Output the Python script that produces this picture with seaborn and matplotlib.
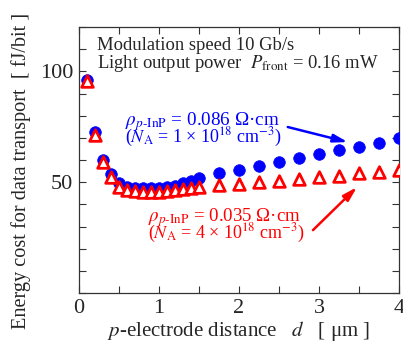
import matplotlib
import matplotlib.pyplot as plt
import numpy as np
import pandas as pd
import seaborn as sns
from matplotlib.ticker import MultipleLocator

matplotlib.use("Agg")

# p-electrode distance d [um]
d_um = [0.1, 0.2, 0.3, 0.4, 0.5, 0.6, 0.7, 0.8, 0.9, 1.0, 1.1, 1.2, 1.3, 1.4, 1.5,
        1.75, 2.0, 2.25, 2.5, 2.75, 3.0, 3.25, 3.5, 3.75, 4.0]
# energy cost [fJ/bit], rho = 0.086 Ohm cm (N_A = 1e18)
energy_086 = [96.0, 72.5, 60.0, 53.5, 49.5, 48.0, 47.5, 47.3, 47.3, 47.5, 48.0, 48.5,
              49.5, 50.5, 52.0, 54.0, 55.4, 57.3, 59.0, 60.8, 62.8, 64.4, 66.0, 67.6, 69.8]
# energy cost [fJ/bit], rho = 0.035 Ohm cm (N_A = 4e18)
energy_035 = [95.5, 71.5, 59.0, 52.5, 48.0, 46.5, 46.0, 45.8, 45.8, 45.8, 46.0, 46.3,
              46.8, 47.2, 47.7, 48.8, 49.4, 50.0, 50.6, 51.5, 52.2, 53.0, 54.0, 54.8, 55.6]

df = pd.DataFrame({"d": d_um, "e086": energy_086, "e035": energy_035})

sns.set_theme(style="ticks")
plt.rcParams["font.family"] = ["Liberation Serif", "DejaVu Serif"]
plt.rcParams["mathtext.fontset"] = "stix"

blue = "#0000ff"
red = "#ff0000"

fig = plt.figure(figsize=(4.03, 3.51), dpi=100)
ax = fig.add_axes([0.196, 0.165, 0.794, 0.758])

sns.scatterplot(data=df, x="d", y="e086", ax=ax, marker="o", s=70,
                color=blue, edgecolor=blue, linewidth=0.5, zorder=3)
sns.scatterplot(data=df, x="d", y="e035", ax=ax, marker="^", s=70,
                facecolor="white", edgecolor=red, linewidth=2.0, zorder=4)

ax.set_xlim(0, 4)
ax.set_ylim(0, 120)
ax.xaxis.set_major_locator(MultipleLocator(1))
ax.xaxis.set_minor_locator(MultipleLocator(0.5))
ax.set_yticks([50, 100])
ax.set_yticks(np.arange(0, 121, 10), minor=True)
ax.tick_params(which="both", direction="in", top=True, right=True,
               labelsize=16, color="#333333", width=0.8, length=5, pad=4)
for spine in ax.spines.values():
    spine.set_linewidth(0.9)
    spine.set_color("#333333")

ax.set_xlabel(r"$p$-electrode distance   $d$   [ μm ]", fontsize=15, labelpad=1)
ax.set_ylabel("Energy cost for data transport  [ fJ/bit ]", fontsize=14.6)
ax.yaxis.set_label_coords(-0.15, 0.46)

ax.text(0.225, 109.6, "Modulation speed 10 Gb/s", fontsize=13.4, va="baseline")
ax.text(0.225, 101.5, r"Light output power  $P_{\mathrm{front}}$ = 0.16 mW",
        fontsize=13.4, va="baseline")

ax.text(0.575, 75.8, r"$\rho_{p\text{-InP}}$ = 0.086 Ω·cm", color=blue,
        fontsize=13.8, va="baseline")
ax.text(0.575, 67.8, r"($N_{\mathrm{A}}$ = 1 × 10$^{18}$ cm$^{-3}$)", color=blue,
        fontsize=13, va="baseline")
ax.text(0.86, 32.6, r"$\rho_{p\text{-InP}}$ = 0.035 Ω·cm", color=red,
        fontsize=13.6, va="baseline")
ax.text(0.86, 24.8, r"($N_{\mathrm{A}}$ = 4 × 10$^{18}$ cm$^{-3}$)", color=red,
        fontsize=13, va="baseline")

ax.annotate("", xy=(3.36, 68.1), xytext=(2.61, 74.9),
            arrowprops=dict(arrowstyle="-|>,head_length=0.7,head_width=0.2",
                            color=blue, lw=1.8, shrinkA=0, shrinkB=0))
ax.annotate("", xy=(3.475, 47.8), xytext=(2.925, 28.4),
            arrowprops=dict(arrowstyle="-|>,head_length=0.7,head_width=0.2",
                            color=red, lw=1.8, shrinkA=0, shrinkB=0))

fig.savefig("out.png", dpi=100)
